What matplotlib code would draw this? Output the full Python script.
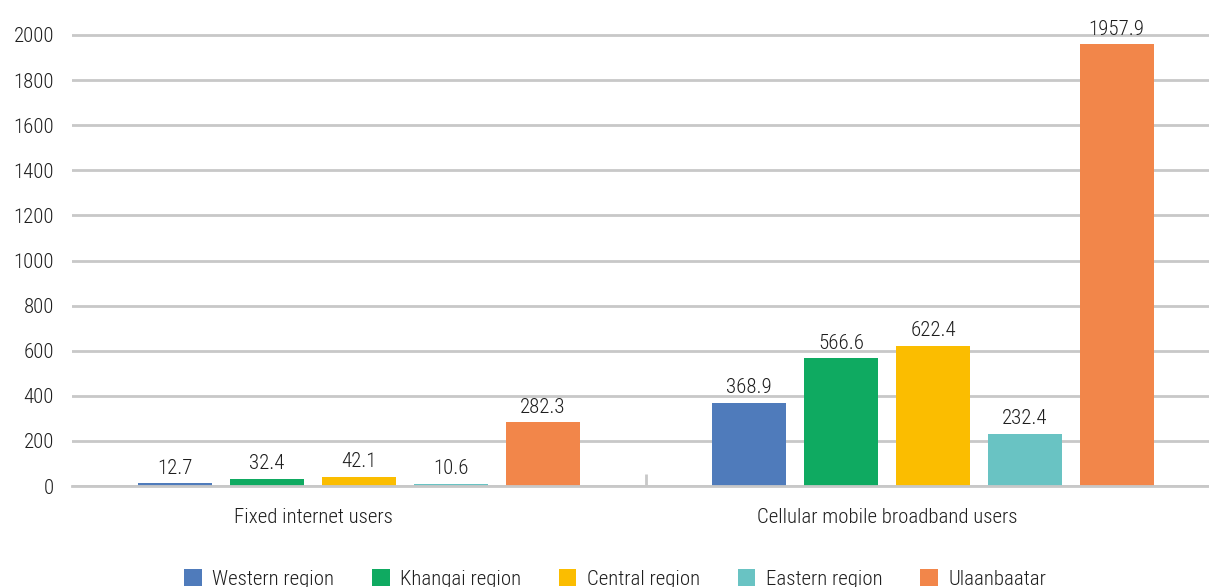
import numpy as np
import matplotlib
matplotlib.use("Agg")
import matplotlib.pyplot as plt
from matplotlib import font_manager

# narrow sans like the original; take the first one that is installed
installed = {f.name for f in font_manager.fontManager.ttflist}
wanted = ["Roboto Condensed", "Archivo Narrow", "PT Sans Narrow",
          "Liberation Sans Narrow", "Encode Sans Condensed", "Open Sans Condensed"]
narrow = [n for n in wanted if n in installed]
plt.rcParams['font.family'] = narrow[:1] + ['DejaVu Sans']
plt.rcParams['font.weight'] = 'light'

# data
categories = ["Fixed internet users", "Cellular mobile broadband users"]
regions = ["Western region", "Khangai region", "Central region",
           "Eastern region", "Ulaanbaatar"]
western   = [12.7, 368.9]
khangai   = [32.4, 566.6]
central   = [42.1, 622.4]
eastern   = [10.6, 232.4]
ulaanbaatar = [282.3, 1957.9]
yticks = list(range(0, 2001, 200))

series = [western, khangai, central, eastern, ulaanbaatar]
colors = ["#4F7BBB", "#0FAA61", "#FBBD00", "#69C3C3", "#F2864A"]
grid_c = "#C8C8C8"
txt_c = "#1E1E1E"
fs = 15

fig = plt.figure(figsize=(12.09, 5.87), dpi=100)
# axes: left edge at px 72, y=0 at px 486, y=2000 at px 35
ax = fig.add_axes([72 / 1209, (587 - 486) / 587, (1209 - 72) / 1209,
                   (486 - 35) / 587 * 2100 / 2000])

x = np.arange(len(categories))
step = 0.16
width = 0.129
for i, (vals, name, c) in enumerate(zip(series, regions, colors)):
    pos = x + (i - 2) * step
    bars = ax.bar(pos, vals, width=width, color=c, label=name, zorder=3)
    for b, v in zip(bars, vals):
        ax.annotate(f"{v:.1f}", (b.get_x() + b.get_width() / 2, v),
                    xytext=(0, 4), textcoords="offset points",
                    ha="center", va="bottom", fontsize=fs, color=txt_c)

ax.set_xlim(-0.5, 1.5 - 11 / 574)
ax.set_ylim(0, 2100)
ax.set_yticks(yticks)
# in the original the category labels sit half a bar-step left of the bars
ax.set_xticks(x - step / 2)
ax.set_xticklabels(categories)
ax.set_xticks([0.5], minor=True)

ax.grid(True, axis="y", color=grid_c, lw=2, zorder=0)
for s in ["top", "right", "left"]:
    ax.spines[s].set_visible(False)
ax.spines["bottom"].set_color(grid_c)
ax.spines["bottom"].set_linewidth(2)
ax.spines["bottom"].set_zorder(4)

ax.tick_params(axis="y", length=0, pad=13, labelsize=fs, labelcolor=txt_c)
ax.tick_params(axis="x", which="major", length=0, pad=16, labelsize=fs,
               labelcolor=txt_c)
ax.tick_params(axis="x", which="minor", direction="in", length=9, width=2,
               color=grid_c)

fig.legend(loc="center", bbox_to_anchor=(615 / 1209, 8 / 587), ncol=5,
           frameon=False, fontsize=fs, handlelength=0.86, handleheight=0.9,
           columnspacing=1.8, handletextpad=0.5, labelcolor=txt_c)

fig.savefig("out.png", dpi=100)
